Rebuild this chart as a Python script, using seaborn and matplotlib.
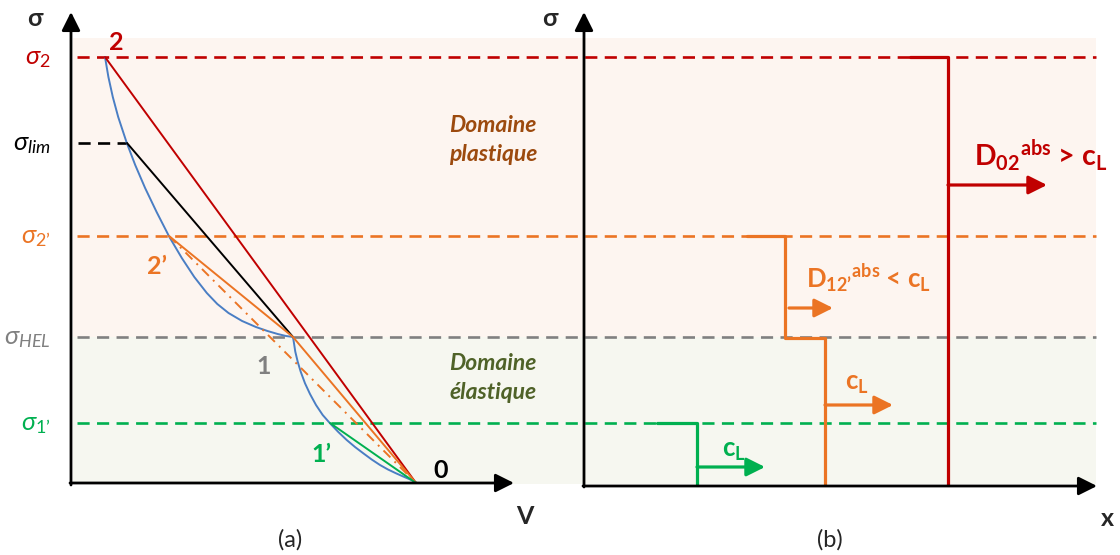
import matplotlib
matplotlib.use("Agg")
import matplotlib.pyplot as plt
import seaborn as sns

# ---------------- data (schematic coordinates, y grows downwards) ----------------
level_labels = [r"$\sigma_2$", r"$\sigma_{lim}$", r"$\sigma_{2’}$", r"$\sigma_{HEL}$", r"$\sigma_{1’}$"]
level_y = [57, 143, 236, 337, 423]
level_colors = ["#C00000", "#000000", "#EB7424", "#808080", "#00B050"]

# state points of panel (a): 2, lim, 2', 1 (HEL), 1', 0
point_v = [105, 127, 169, 293, 330, 416]
point_s = [57, 143, 236, 337, 423, 483]

# Hugoniot curve (blue)
hug_plastic_v = [105.0, 108.4, 112.8, 118.2, 126.8, 135.2, 145.1, 156.6, 169.4, 181.8, 194.3,
                 206.8, 217.3, 228.5, 242.1, 255.9, 267.5, 277.7, 286.0, 293.0]
hug_plastic_s = [57, 77, 97, 117, 143, 165, 188, 212, 237, 258, 277,
                 293, 304, 313, 321, 327, 331, 334, 336, 337]
hug_elastic_v = [293.0, 294.0, 295.3, 297.7, 300.7, 305.0, 310.0, 316.0, 322.7, 330.0, 338.3,
                 346.7, 355.0, 363.3, 371.7, 380.0, 388.0, 396.0, 403.0, 409.5, 416.0]
hug_elastic_s = [337.0, 343.3, 351.7, 361.7, 371.7, 383.3, 394.0, 405.0, 415.0, 423.3, 432.0,
                 440.0, 447.0, 453.3, 459.5, 465.0, 469.5, 473.3, 476.4, 479.2, 482.3]

# panel (b): stress profiles sigma(x)
green_x = [657, 697, 697]
green_s = [423, 423, 485]
orange_x = [747, 785, 785, 825, 825]
orange_s = [236, 236, 338, 338, 485]
red_x = [910, 948, 948]
red_s = [57, 57, 485]

# velocity arrows: (x start, x end, y, colour)
arrows_b = [(697, 765, 467, "#00B050"), (789, 833, 308, "#EB7424"),
            (825, 893, 405, "#EB7424"), (948, 1047, 185, "#C00000")]

RED, ORANGE, GREEN, GRAY, BLUE = "#C00000", "#EB7424", "#00B050", "#808080", "#4A7EC4"

# ---------------- style ----------------
sns.set_theme(style="white")
plt.rcParams["font.family"] = ["Lato", "DejaVu Sans"]
plt.rcParams["mathtext.fontset"] = "custom"
plt.rcParams["mathtext.rm"] = "Lato"
plt.rcParams["mathtext.it"] = "Lato:italic"
plt.rcParams["mathtext.bf"] = "Lato:bold"

fig = plt.figure(figsize=(11.2, 5.55), dpi=100)
ax = fig.add_axes([0, 0, 1, 1])
ax.set_xlim(0, 1120)
ax.set_ylim(555, 0)
ax.set_axis_off()

# background domains
ax.fill_between([73, 1096], 38, level_y[3], color="#FDF5F0", lw=0, zorder=0)
ax.fill_between([73, 1096], level_y[3], 484, color="#F6F7F0", lw=0, zorder=0)

# level dashed lines
dash = (0, (4.6, 2.8))
for y, c in zip(level_y, level_colors):
    if c == "#000000":
        ax.plot([78, point_v[1]], [y, y], color=c, lw=1.9, ls=dash, zorder=2)
    else:
        ax.plot([77, 1096], [y, y], color=c, lw=1.9, ls=dash, zorder=2)

# labels of levels
for lab, y, c in zip(level_labels, level_y, level_colors):
    ax.text(51, y, lab, color=c, fontsize=18.5, ha="right", va="center", zorder=5)

# Hugoniot
sns.lineplot(x=hug_plastic_v, y=hug_plastic_s, sort=False, estimator=None, color=BLUE, lw=1.4, ax=ax, zorder=3)
sns.lineplot(x=hug_elastic_v, y=hug_elastic_s, sort=False, estimator=None, color=BLUE, lw=1.4, ax=ax, zorder=3)

# Rayleigh lines
P = list(zip(point_v, point_s))
def seg(i, j, c, ls="-", lw=1.4):
    ax.plot([P[i][0], P[j][0]], [P[i][1], P[j][1]], color=c, ls=ls, lw=lw, zorder=4,
            solid_capstyle="round")

seg(0, 5, RED)
seg(1, 3, "black")
seg(2, 3, ORANGE)
seg(3, 5, ORANGE)
seg(2, 5, ORANGE, ls=(0, (5, 3, 1, 3)), lw=1.4)
seg(4, 5, GREEN)

# axes of panel (a) and (b)
axkw = dict(arrowstyle="-|>", mutation_scale=28, lw=2.0, color="black", shrinkA=0, shrinkB=0)
ax.annotate("", xy=(71, 12), xytext=(71, 485), arrowprops=axkw, zorder=6)
ax.annotate("", xy=(514, 483), xytext=(70, 483), arrowprops=axkw, zorder=6)
ax.annotate("", xy=(584, 12), xytext=(584, 487), arrowprops=axkw, zorder=6)
ax.annotate("", xy=(1097, 486), xytext=(583, 486), arrowprops=axkw, zorder=6)

# point labels
ax.text(116, 42, "2", color=RED, fontsize=18, fontweight="bold", ha="center", va="center")
ax.text(157, 266, "2’", color=ORANGE, fontsize=18, fontweight="bold", ha="center", va="center")
ax.text(264, 367, "1", color=GRAY, fontsize=18, fontweight="bold", ha="center", va="center")
ax.text(321, 455, "1’", color=GREEN, fontsize=18, fontweight="bold", ha="center", va="center")
ax.text(441, 470, "0", color="black", fontsize=18, fontweight="bold", ha="center", va="center")

ax.text(493, 140, "Domaine\nplastique", color="#9C4A0E", fontsize=16.5, fontweight="bold",
        style="italic", ha="center", va="center", linespacing=1.5)
ax.text(493, 378, "Domaine\nélastique", color="#4F6228", fontsize=16.5, fontweight="bold",
        style="italic", ha="center", va="center", linespacing=1.5)

# axis labels
ax.text(35, 18, "σ", fontsize=18, fontweight="bold", ha="center", va="center")
ax.text(550, 18, "σ", fontsize=18, fontweight="bold", ha="center", va="center")
ax.text(525, 517, "V", fontsize=18, fontweight="bold", ha="center", va="center")
ax.text(1107, 519, "x", fontsize=18, fontweight="bold", ha="center", va="center")
ax.text(290, 540, "(a)", fontsize=17, ha="center", va="center")
ax.text(830, 540, "(b)", fontsize=17, ha="center", va="center")

# panel (b) profiles
sns.lineplot(x=green_x, y=green_s, sort=False, estimator=None, color=GREEN, lw=2.3, ax=ax, zorder=4)
sns.lineplot(x=orange_x, y=orange_s, sort=False, estimator=None, color=ORANGE, lw=2.3, ax=ax, zorder=4)
sns.lineplot(x=red_x, y=red_s, sort=False, estimator=None, color=RED, lw=2.3, ax=ax, zorder=4)

for x0, x1, y, c in arrows_b:
    ax.annotate("", xy=(x1, y), xytext=(x0, y),
                arrowprops=dict(arrowstyle="-|>", mutation_scale=28, lw=2.3, color=c,
                                shrinkA=0, shrinkB=0), zorder=5)

ax.text(974, 166, r"$\mathbf{D_{02}{}^{abs}}$ > $\mathbf{c_L}$", color=RED, fontsize=20.5,
        fontweight="bold", ha="left", va="baseline")
ax.text(806, 288, r"$\mathbf{D_{12’}{}^{abs}}$ < $\mathbf{c_L}$", color=ORANGE, fontsize=18.5,
        fontweight="bold", ha="left", va="baseline")
ax.text(845, 390, r"$\mathbf{c_L}$", color=ORANGE, fontsize=18.5, ha="left", va="baseline")
ax.text(722, 457, r"$\mathbf{c_L}$", color=GREEN, fontsize=18.5, ha="left", va="baseline")

fig.savefig("out.png", dpi=100)
